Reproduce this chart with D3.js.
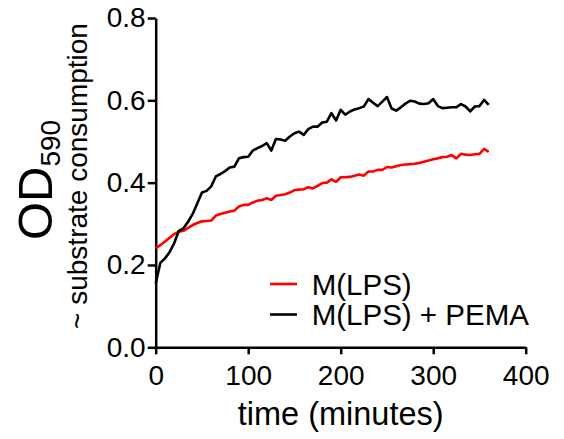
<!DOCTYPE html>
<html>
<head>
<meta charset="utf-8">
<script src="https://cdn.jsdelivr.net/npm/d3@7"></script>
<style>
  body { margin: 0; background: #fff; }
  text { font-family: "Liberation Sans", Arial, sans-serif; fill: #000; }
</style>
</head>
<body>
<div id="chart"></div>
<script>
var width = 564, height = 439;
var margin = {top: 18, right: 38.3, bottom: 91.7, left: 155.7};

// sampling times (minutes), every 5 min
var times = [0, 5, 10, 15, 20, 25, 30, 35, 40, 45, 50, 55, 60, 65, 70, 75, 80, 85, 90, 95,
  100, 105, 110, 115, 120, 125, 130, 135, 140, 145, 150, 155, 160, 165, 170, 175, 180, 185, 190, 195,
  200, 205, 210, 215, 220, 225, 230, 235, 240, 245, 250, 255, 260, 265, 270, 275, 280, 285, 290, 295,
  300, 305, 310, 315, 320, 325, 330, 335, 340, 345, 350, 355, 360];

var lpsValues = [0.241, 0.248, 0.257, 0.266, 0.275, 0.281, 0.283, 0.290, 0.297, 0.302,
  0.306, 0.307, 0.308, 0.320, 0.324, 0.327, 0.330, 0.332, 0.342, 0.346,
  0.346, 0.352, 0.356, 0.358, 0.362, 0.358, 0.368, 0.370, 0.372, 0.376,
  0.382, 0.383, 0.384, 0.389, 0.386, 0.392, 0.399, 0.400, 0.408, 0.402,
  0.413, 0.413, 0.414, 0.417, 0.420, 0.417, 0.427, 0.427, 0.431, 0.431,
  0.438, 0.437, 0.440, 0.443, 0.444, 0.445, 0.446, 0.448, 0.451, 0.454,
  0.457, 0.459, 0.462, 0.463, 0.467, 0.459, 0.470, 0.468, 0.467, 0.469,
  0.470, 0.482, 0.475];

var pemaValues = [0.155, 0.205, 0.216, 0.231, 0.253, 0.283, 0.289, 0.305, 0.324, 0.350,
  0.376, 0.380, 0.391, 0.415, 0.421, 0.428, 0.437, 0.439, 0.459, 0.462,
  0.463, 0.478, 0.484, 0.489, 0.496, 0.478, 0.506, 0.505, 0.502, 0.512,
  0.520, 0.524, 0.516, 0.530, 0.536, 0.536, 0.546, 0.548, 0.569, 0.551,
  0.577, 0.565, 0.573, 0.578, 0.581, 0.585, 0.603, 0.594, 0.586, 0.597,
  0.608, 0.580, 0.575, 0.583, 0.592, 0.599, 0.597, 0.592, 0.591, 0.593,
  0.603, 0.586, 0.581, 0.582, 0.583, 0.583, 0.591, 0.585, 0.573, 0.585,
  0.586, 0.601, 0.589];

var seriesNames = ["M(LPS)", "M(LPS) + PEMA"];
var seriesColors = ["#ff0000", "#000000"];
var xTicks = [0, 100, 200, 300, 400];
var yTicks = [0, 0.2, 0.4, 0.6, 0.8];

var series = [lpsValues, pemaValues];

var svg = d3.select("#chart").append("svg")
  .attr("width", width)
  .attr("height", height);

var x = d3.scaleLinear()
  .domain([0, 400])
  .range([margin.left, width - margin.right]);

var y = d3.scaleLinear()
  .domain([0, 0.8])
  .range([height - margin.bottom, margin.top]);

// axes
var xAxis = svg.append("g")
  .attr("transform", `translate(0,${height - margin.bottom})`)
  .call(d3.axisBottom(x).tickValues(xTicks).tickSize(7).tickSizeOuter(0).tickPadding(11));

var yAxis = svg.append("g")
  .attr("transform", `translate(${margin.left},0)`)
  .call(d3.axisLeft(y).tickValues(yTicks).tickSize(8).tickSizeOuter(0).tickPadding(2)
    .tickFormat(d3.format(".1f")));

[xAxis, yAxis].forEach(g => {
  g.selectAll("path, line").attr("stroke", "#000").attr("stroke-width", 2.5);
  g.selectAll("text").attr("font-size", 28).attr("font-family", "Liberation Sans, Arial, sans-serif");
});

// lines
var line = d3.line()
  .x((d, i) => x(times[i]))
  .y(d => y(d));

svg.selectAll(".series")
  .data(series)
  .enter().append("path")
  .attr("class", "series")
  .attr("fill", "none")
  .attr("stroke", (d, i) => seriesColors[i])
  .attr("stroke-width", 2.6)
  .attr("stroke-linejoin", "round")
  .attr("d", line);

// x label
svg.append("text")
  .attr("x", (x(0) + x(400)) / 2)
  .attr("y", 425)
  .attr("text-anchor", "middle")
  .attr("font-size", 32.5)
  .text("time (minutes)");

// y labels
var ylab = svg.append("text")
  .attr("transform", "translate(52,180) rotate(-90)")
  .attr("text-anchor", "middle")
  .attr("font-size", 49);
ylab.append("tspan").text("OD");
ylab.append("tspan").attr("font-size", 28).attr("dy", 8).text("590");

svg.append("text")
  .attr("transform", "translate(87,176) rotate(-90)")
  .attr("text-anchor", "middle")
  .attr("font-size", 28)
  .text("~ substrate consumption");

// legend
var legend = svg.selectAll(".legend")
  .data(seriesNames)
  .enter().append("g")
  .attr("class", "legend")
  .attr("transform", (d, i) => `translate(270,${284 + i * 30.5})`);

legend.append("line")
  .attr("x1", 0).attr("x2", 27)
  .attr("stroke", (d, i) => seriesColors[i])
  .attr("stroke-width", 2.6);

legend.append("text")
  .attr("x", 41.7)
  .attr("dy", "0.36em")
  .attr("font-size", 29.5)
  .text(d => d);
</script>
</body>
</html>
